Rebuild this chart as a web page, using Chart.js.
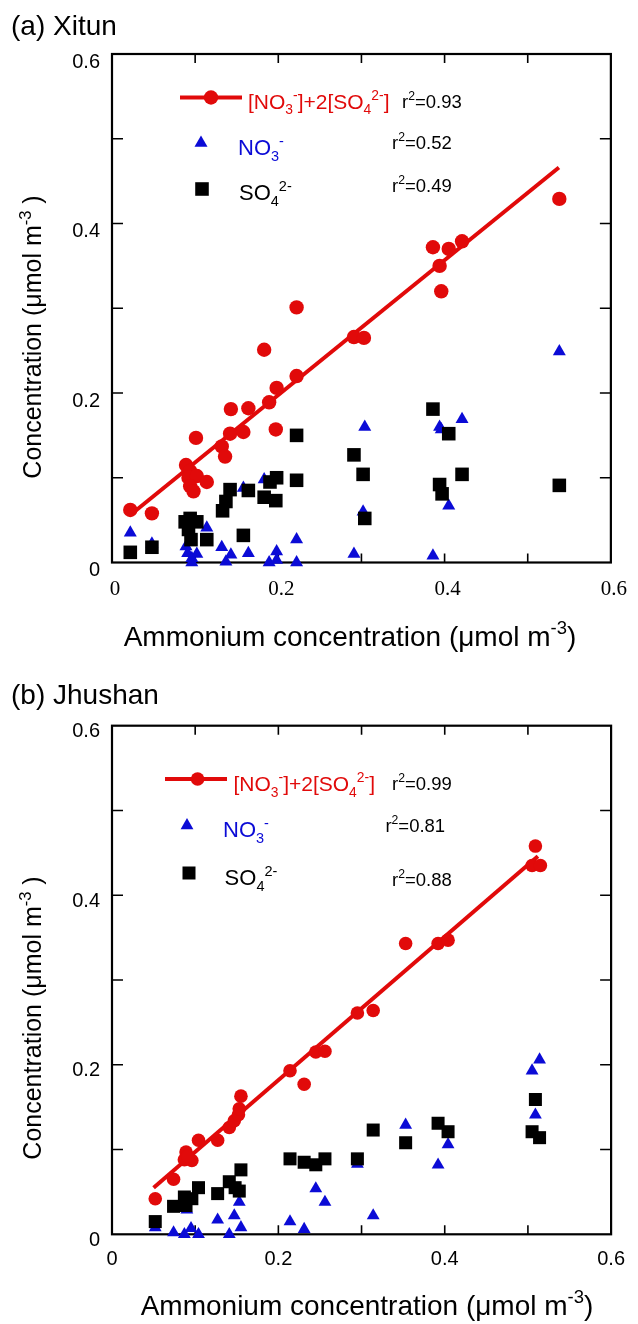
<!DOCTYPE html>
<html><head><meta charset="utf-8">
<script src="https://cdn.jsdelivr.net/npm/chart.js@4.4.1/dist/chart.umd.min.js"></script>
<style>
html,body{margin:0;padding:0;background:#fff;}
#wrap{position:relative;width:638px;height:1324px;overflow:hidden;}
canvas{position:absolute;left:0;}
#c1{top:0}
#c2{top:662px}
</style></head><body>
<div id="wrap"><canvas id="c1" width="638" height="662" style="width:638px;height:662px"></canvas><canvas id="c2" width="638" height="662" style="width:638px;height:662px"></canvas></div>
<script>
// ---------- DATA: (a) Xitun ----------
const xitunSumX = [0.022,0.048,0.089,0.094,0.092,0.102,0.094,0.098,0.114,0.101,0.132,0.136,0.142,0.143,0.158,0.164,0.183,0.189,0.198,0.197,0.222,0.222,0.291,0.303,0.386,0.394,0.396,0.405,0.421,0.538];
const xitunSumY = [0.062,0.058,0.115,0.108,0.100,0.102,0.090,0.084,0.095,0.147,0.137,0.125,0.152,0.181,0.154,0.182,0.251,0.189,0.206,0.157,0.220,0.301,0.266,0.265,0.372,0.350,0.320,0.370,0.379,0.429];
const xitunNo3X = [0.022,0.048,0.089,0.091,0.096,0.102,0.096,0.114,0.132,0.137,0.143,0.158,0.164,0.183,0.189,0.198,0.198,0.222,0.222,0.291,0.302,0.304,0.386,0.394,0.396,0.405,0.421,0.538];
const xitunNo3Y = [0.035,0.022,0.019,0.011,0.000,0.010,0.005,0.041,0.018,0.001,0.009,0.088,0.011,0.098,0.000,0.013,0.003,0.027,0.000,0.010,0.060,0.160,0.008,0.160,0.157,0.067,0.169,0.249];
const xitunSo4X = [0.022,0.048,0.088,0.094,0.102,0.092,0.095,0.114,0.133,0.137,0.142,0.158,0.164,0.183,0.190,0.198,0.197,0.222,0.222,0.291,0.302,0.304,0.386,0.394,0.397,0.405,0.421,0.538];
const xitunSo4Y = [0.012,0.018,0.048,0.052,0.048,0.039,0.027,0.027,0.061,0.072,0.086,0.032,0.085,0.077,0.095,0.100,0.073,0.150,0.097,0.127,0.104,0.052,0.181,0.092,0.081,0.152,0.104,0.091];
const xitunFitX = [0.022,0.5375];
const xitunFitY = [0.056,0.466];
const xitunR2 = ['0.93','0.52','0.49'];

// ---------- DATA: (b) Jhushan ----------
const jhushanSumX = [0.052,0.074,0.089,0.087,0.096,0.091,0.104,0.127,0.141,0.147,0.152,0.153,0.155,0.214,0.231,0.245,0.256,0.295,0.314,0.353,0.392,0.404,0.505,0.515,0.509];
const jhushanSumY = [0.042,0.065,0.097,0.088,0.087,0.092,0.111,0.111,0.126,0.134,0.141,0.148,0.163,0.193,0.177,0.215,0.216,0.261,0.264,0.343,0.343,0.347,0.435,0.435,0.458];
const jhushanNo3X = [0.052,0.074,0.087,0.090,0.095,0.104,0.127,0.141,0.147,0.153,0.155,0.214,0.231,0.245,0.256,0.295,0.314,0.353,0.392,0.404,0.505,0.514,0.509];
const jhushanNo3Y = [0.008,0.002,0.000,0.029,0.007,0.000,0.017,0.000,0.022,0.038,0.008,0.015,0.006,0.054,0.038,0.083,0.022,0.129,0.082,0.106,0.193,0.206,0.141];
const jhushanSo4X = [0.052,0.074,0.087,0.089,0.096,0.104,0.127,0.141,0.148,0.153,0.155,0.214,0.231,0.245,0.256,0.295,0.314,0.353,0.392,0.404,0.505,0.514,0.509];
const jhushanSo4Y = [0.015,0.033,0.044,0.034,0.042,0.055,0.048,0.062,0.055,0.051,0.076,0.089,0.085,0.082,0.089,0.089,0.123,0.108,0.131,0.121,0.121,0.114,0.159];
const jhushanFitX = [0.050,0.512];
const jhushanFitY = [0.055,0.446];
const jhushanR2 = ['0.99','0.81','0.88'];

// ---------- AXES / LABELS ----------
const xTickLabels = ['0','0.2','0.4','0.6'];
const yTickLabels = ['0','0.2','0.4','0.6'];
const panelTitles = ['(a) Xitun','(b) Jhushan'];

const RED = '#e10a0a', BLUE = '#0b0bd6', BLACK = '#000';
const SANS = "'Liberation Sans', Arial, sans-serif";
const SERIF = "'Liberation Serif', 'Times New Roman', serif";

function pts(xs, ys){ return xs.map((x,i)=>({x:x, y:ys[i]})); }

function drawRich(ctx, segs, x, y, size, color, align, fam){
  fam = fam || SANS;
  const parts = segs.map(s => {
    const fs = s.s ? size*0.66 : size;
    ctx.font = fs + 'px ' + fam;
    return {t:s.t, fs:fs, w:ctx.measureText(s.t).width,
      dy: s.s==='sub' ? size*0.28 : (s.s==='sup' ? -size*0.42 : 0)};
  });
  const total = parts.reduce((a,p)=>a+p.w,0);
  let cx = align==='center' ? x - total/2 : x;
  ctx.textBaseline = 'alphabetic'; ctx.textAlign = 'left'; ctx.fillStyle = color;
  parts.forEach(p => { ctx.font = p.fs + 'px ' + fam; ctx.fillText(p.t, cx, y + p.dy); cx += p.w; });
}

function makeOverlay(cfg){
  return {
    id: 'overlay',
    beforeDatasetsDraw(chart){
      const ctx = chart.ctx, a = chart.chartArea, xs = chart.scales.x, ys = chart.scales.y;
      ctx.save();
      ctx.strokeStyle = '#000';
      ctx.lineWidth = 1.6;
      ctx.beginPath();
      xs.ticks.forEach(t => {
        const px = xs.getPixelForValue(t.value);
        if (px < a.left + 2 || px > a.right - 2) return;
        ctx.moveTo(px, a.top); ctx.lineTo(px, a.top + 9);
        ctx.moveTo(px, a.bottom); ctx.lineTo(px, a.bottom - 9);
      });
      ys.ticks.forEach(t => {
        const py = ys.getPixelForValue(t.value);
        if (py < a.top + 2 || py > a.bottom - 2) return;
        ctx.moveTo(a.left, py); ctx.lineTo(a.left + 11, py);
        ctx.moveTo(a.right, py); ctx.lineTo(a.right - 11, py);
      });
      ctx.stroke();
      ctx.lineWidth = 2.2;
      ctx.strokeRect(a.left, a.top, a.right - a.left, a.bottom - a.top);
      ctx.restore();
    },
    afterDraw(chart){
      const ctx = chart.ctx, o = cfg.off;
      ctx.save();
      ctx.font = '28px ' + SANS; ctx.fillStyle = '#000'; ctx.textBaseline = 'alphabetic'; ctx.textAlign = 'left';
      ctx.fillText(cfg.title, 11, cfg.titleY - o);
      drawRich(ctx, [{t:'Ammonium concentration (\u03bcmol m'},{t:'-3',s:'sup'},{t:')'}], cfg.xtX, cfg.xtY - o, 28, '#000', 'center');
      ctx.save();
      ctx.translate(41, cfg.ytY - o); ctx.rotate(-Math.PI/2);
      drawRich(ctx, [{t:'Concentration (\u03bcmol m'},{t:'-3',s:'sup'},{t:' )'}], 0, 0, 25, '#000', 'center');
      ctx.restore();
      const L = cfg.leg;
      ctx.strokeStyle = RED; ctx.lineWidth = 4; ctx.beginPath();
      ctx.moveTo(L.lineX0, L.lineY - o); ctx.lineTo(L.lineX1, L.lineY - o); ctx.stroke();
      ctx.fillStyle = RED;
      Chart.helpers.drawPoint(ctx, {pointStyle:'circle', radius:cfg.rc, rotation:0, borderWidth:0}, L.dotX, L.lineY - o);
      ctx.fillStyle = BLUE;
      Chart.helpers.drawPoint(ctx, {pointStyle:'triangle', radius:cfg.rt, rotation:0, borderWidth:0}, L.triX, L.triY - o);
      ctx.fillStyle = BLACK;
      Chart.helpers.drawPoint(ctx, {pointStyle:'rect', radius:cfg.rs, rotation:0, borderWidth:0}, L.sqX, L.sqY - o);
      drawRich(ctx, [{t:'[NO'},{t:'3',s:'sub'},{t:'-',s:'sup'},{t:']+2[SO'},{t:'4',s:'sub'},{t:'2-',s:'sup'},{t:']'}], L.t1X, L.t1Y - o, 21, RED, 'left');
      drawRich(ctx, [{t:'NO'},{t:'3',s:'sub'},{t:'-',s:'sup'}], L.t2X, L.t2Y - o, 22, BLUE, 'left');
      drawRich(ctx, [{t:'SO'},{t:'4',s:'sub'},{t:'2-',s:'sup'}], L.t3X, L.t3Y - o, 22, BLACK, 'left');
      drawRich(ctx, [{t:'r'},{t:'2',s:'sup'},{t:'='+cfg.r2[0]}], L.r1X, L.r1Y - o, 18.5, BLACK, 'left');
      drawRich(ctx, [{t:'r'},{t:'2',s:'sup'},{t:'='+cfg.r2[1]}], L.r2X, L.r2Y - o, 18.5, BLACK, 'left');
      drawRich(ctx, [{t:'r'},{t:'2',s:'sup'},{t:'='+cfg.r2[2]}], L.r3X, L.r3Y - o, 18.5, BLACK, 'left');
      ctx.restore();
    }
  };
}

function tickCb(labels){
  return function(v){
    const k = Math.round(v * 10);
    if (k % 2 !== 0) return '';
    return labels[k/2] !== undefined ? labels[k/2] : '';
  };
}

function makeChart(id, d, cfg){
  return new Chart(document.getElementById(id), {
    type: 'scatter',
    data: { datasets: [
      {label:'fit', data: pts(d.fitX, d.fitY), showLine:true, borderColor:RED, borderWidth:4, pointRadius:0, order:2, clip:false},
      {label:'NO3', data: pts(d.no3X, d.no3Y), pointStyle:'triangle', pointRadius:cfg.rt, backgroundColor:BLUE, borderColor:BLUE, borderWidth:0, order:4, clip:false},
      {label:'SO4', data: pts(d.so4X, d.so4Y), pointStyle:'rect', pointRadius:cfg.rs, backgroundColor:BLACK, borderColor:BLACK, borderWidth:0, order:3, clip:false},
      {label:'sum', data: pts(d.sumX, d.sumY), pointStyle:'circle', pointRadius:cfg.rc, backgroundColor:RED, borderColor:RED, borderWidth:0, order:1, clip:false}
    ]},
    options: {
      responsive:false, animation:false, events:[],
      layout:{padding:cfg.pad},
      plugins:{legend:{display:false}, tooltip:{enabled:false}, title:{display:false}},
      elements:{point:{hoverRadius:0}},
      scales:{
        x:{type:'linear', min:0, max:0.6, afterFit:s=>{s.height = cfg.xh;},
          grid:{display:false, drawTicks:false}, border:{display:false},
          ticks:{stepSize:0.1, autoSkip:false, maxRotation:0, color:'#000', padding:cfg.xpad, labelOffset:cfg.xlo,
            font:{family:cfg.xfam, size:cfg.xfs}, callback:tickCb(xTickLabels)}},
        y:{type:'linear', min:0, max:0.6, afterFit:s=>{s.width = 112;},
          grid:{display:false, drawTicks:false}, border:{display:false},
          ticks:{stepSize:0.1, autoSkip:false, color:'#000', padding:12, labelOffset:cfg.ylo,
            font:{family:SANS, size:20}, callback:tickCb(yTickLabels)}}
      }
    },
    plugins:[makeOverlay(cfg)]
  });
}

makeChart('c1',
  {sumX:xitunSumX,sumY:xitunSumY,no3X:xitunNo3X,no3Y:xitunNo3Y,so4X:xitunSo4X,so4Y:xitunSo4Y,fitX:xitunFitX,fitY:xitunFitY},
  {off:0, title:panelTitles[0], titleY:35, xtX:350, xtY:646, ytY:337, r2:xitunR2,
   pad:{left:0, top:54, right:16, bottom:0}, xh:99.5, xpad:14, xlo:3, xfam:SERIF, xfs:21, ylo:8,
   rc:7.2, rt:7.5, rs:9.6,
   leg:{lineX0:180, lineX1:242, lineY:97.5, dotX:211, triX:201, triY:143, sqX:202, sqY:189,
        t1X:248, t1Y:108.5, t2X:238, t2Y:155, t3X:239, t3Y:200,
        r1X:402, r1Y:107.5, r2X:392, r2Y:149, r3X:392, r3Y:192}});

makeChart('c2',
  {sumX:jhushanSumX,sumY:jhushanSumY,no3X:jhushanNo3X,no3Y:jhushanNo3Y,so4X:jhushanSo4X,so4Y:jhushanSo4Y,fitX:jhushanFitX,fitY:jhushanFitY},
  {off:662, title:panelTitles[1], titleY:703.5, xtX:367, xtY:1315, ytY:1018, r2:jhushanR2,
   pad:{left:0, top:63.7, right:24, bottom:0}, xh:89.7, xpad:13, xlo:0, xfam:SANS, xfs:20, ylo:6,
   rc:6.8, rt:7.4, rs:9.2,
   leg:{lineX0:165, lineX1:227, lineY:779, dotX:197.6, triX:187, triY:825.5, sqX:189, sqY:873,
        t1X:233.5, t1Y:791, t2X:223, t2Y:837, t3X:224.6, t3Y:885,
        r1X:392, r1Y:789.5, r2X:385.4, r2Y:831.5, r3X:392, r3Y:885.5}});
</script>
</body></html>
